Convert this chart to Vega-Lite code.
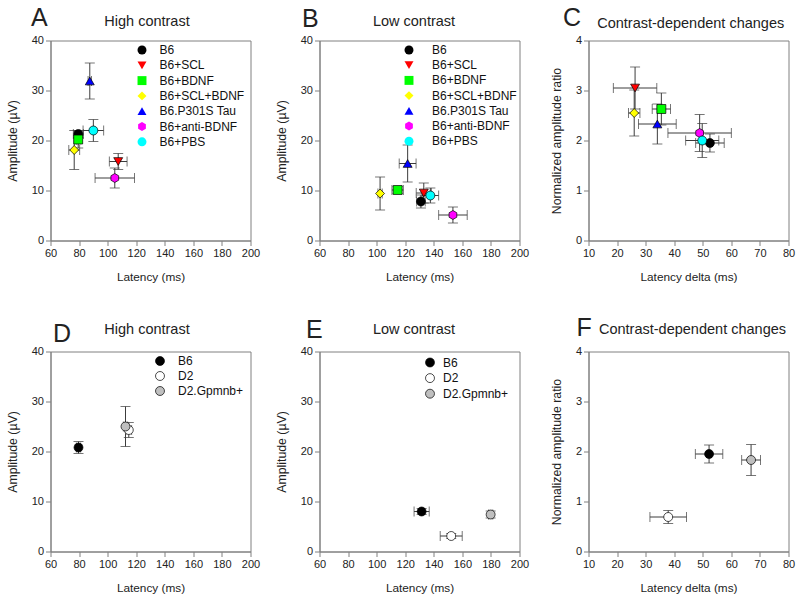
{
  "$schema": "https://vega.github.io/schema/vega-lite/v6.json",
  "background": "white",
  "padding": {"left": 5.5, "top": 4.5, "right": 0, "bottom": 0},
  "autosize": {"type": "pad"},
  "datasets": {
    "hc": [
      {"g": "B6", "x": 79.5, "xe": 3.5, "y": 21.3, "ye": 0.7},
      {"g": "B6+SCL", "x": 107.4, "xe": 6.2, "y": 15.8, "ye": 1.6},
      {"g": "B6+BDNF", "x": 79.4, "xe": 1.2, "y": 20.2, "ye": 1.7},
      {"g": "B6+SCL+BDNF", "x": 76.6, "xe": 3.8, "y": 18.1, "ye": 3.9},
      {"g": "B6.P301S Tau", "x": 87.5, "xe": 1.2, "y": 31.9, "ye": 3.6},
      {"g": "B6+anti-BDNF", "x": 105, "xe": 13.8, "y": 12.5, "ye": 2.0},
      {"g": "B6+PBS", "x": 90, "xe": 7.2, "y": 22, "ye": 2.2}
    ],
    "lc": [
      {"g": "B6", "x": 131, "xe": 3, "y": 7.8, "ye": 1.3},
      {"g": "B6+SCL", "x": 133, "xe": 5.3, "y": 9.5, "ye": 2.0},
      {"g": "B6+BDNF", "x": 114.7, "xe": 4, "y": 10.1, "ye": 0.7},
      {"g": "B6+SCL+BDNF", "x": 102.4, "xe": 1.5, "y": 9.4, "ye": 3.3},
      {"g": "B6.P301S Tau", "x": 121.7, "xe": 5.9, "y": 15.4, "ye": 3.7},
      {"g": "B6+anti-BDNF", "x": 153.4, "xe": 10, "y": 5.1, "ye": 1.6},
      {"g": "B6+PBS", "x": 137.6, "xe": 5.8, "y": 9.0, "ye": 1.5}
    ],
    "cd": [
      {"g": "B6", "x": 52.5, "xe": 5, "y": 1.95, "ye": 0.18},
      {"g": "B6+SCL", "x": 26.3, "xe": 7.6, "y": 3.05, "ye": 0.42},
      {"g": "B6+BDNF", "x": 35.5, "xe": 3.2, "y": 2.63, "ye": 0.32},
      {"g": "B6+SCL+BDNF", "x": 26, "xe": 2, "y": 2.55, "ye": 0.46},
      {"g": "B6.P301S Tau", "x": 34.1, "xe": 6.6, "y": 2.33, "ye": 0.4},
      {"g": "B6+anti-BDNF", "x": 48.9, "xe": 11.1, "y": 2.15, "ye": 0.37},
      {"g": "B6+PBS", "x": 49.8, "xe": 5.8, "y": 2.0, "ye": 0.34}
    ],
    "hc2": [
      {"g": "B6", "x": 79.6, "xe": 1.5, "y": 20.8, "ye": 1.2},
      {"g": "D2", "x": 114.8, "xe": 2, "y": 24.3, "ye": 1.5},
      {"g": "D2.Gpmnb+", "x": 112.5, "xe": 1.5, "y": 25, "ye": 4}
    ],
    "lc2": [
      {"g": "B6", "x": 131.5, "xe": 5.3, "y": 8.0, "ye": 0.6},
      {"g": "D2", "x": 152.2, "xe": 7.7, "y": 3.1, "ye": 0.5},
      {"g": "D2.Gpmnb+", "x": 179.8, "xe": 1.5, "y": 7.4, "ye": 0.7}
    ],
    "cd2": [
      {"g": "B6", "x": 52.2, "xe": 4.8, "y": 1.95, "ye": 0.18},
      {"g": "D2", "x": 37.9, "xe": 6.4, "y": 0.69, "ye": 0.13},
      {"g": "D2.Gpmnb+", "x": 66.9, "xe": 3.3, "y": 1.83, "ye": 0.31}
    ]
  },
  "columns": 3,
  "bounds": "flush",
  "spacing": {"row": 111, "column": 69},
  "resolve": {"scale": {"fill": "independent", "shape": "independent"}, "legend": {"fill": "independent", "shape": "independent"}},
  "concat": [
    {
      "width": 200, "height": 200,
      "data": {"name": "hc"},
      "resolve": {"axis": {"x": "independent", "y": "independent"}},
      "layer": [
        {"mark": {"type": "errorbar", "color": "#3c3c3c", "thickness": 1, "ticks": {"size": 10, "thickness": 1}},
         "encoding": {
           "x": {"field": "x", "type": "quantitative", "scale": {"domain": [60, 200], "nice": false}, "axis": null},
           "xError": {"field": "xe"},
           "y": {"field": "y", "type": "quantitative", "scale": {"domain": [0, 40], "nice": false}, "axis": null}
         }},
        {"mark": {"type": "errorbar", "color": "#3c3c3c", "thickness": 1, "ticks": {"size": 10, "thickness": 1}},
         "encoding": {
           "x": {"field": "x", "type": "quantitative", "axis": {"orient": "top", "title": "High contrast", "labels": false, "ticks": false, "domain": false, "titleFontSize": 14.5, "titleX": 96, "titleY": -15, "titleAlign": "center", "titleBaseline": "alphabetic"}},
           "y": {"field": "y", "type": "quantitative", "axis": {"orient": "right", "title": "A", "labels": false, "ticks": false, "domain": false, "titleFontSize": 25, "titleAngle": 0, "titleX": -220, "titleY": -15, "titleAlign": "left", "titleBaseline": "alphabetic"}},
           "yError": {"field": "ye"}
         }},
        {"mark": {"type": "point", "filled": true, "stroke": "black", "strokeWidth": 0.7, "size": 80, "opacity": 1},
         "encoding": {
           "x": {"field": "x", "type": "quantitative", "axis": {"orient": "bottom", "title": "Latency (ms)", "values": [60, 80, 100, 120, 140, 160, 180, 200]}},
           "y": {"field": "y", "type": "quantitative", "axis": {"orient": "left", "title": "Amplitude (µV)", "values": [0, 10, 20, 30, 40]}},
           "fill": {"field": "g", "type": "nominal",
             "scale": {"domain": ["B6", "B6+SCL", "B6+BDNF", "B6+SCL+BDNF", "B6.P301S Tau", "B6+anti-BDNF", "B6+PBS"], "range": ["#000000", "#ff0000", "#00ff00", "#ffff00", "#0000ff", "#ff00ff", "#00ffff"]},
             "legend": {"title": null, "orient": "none", "legendX": 85.5, "legendY": 3.5, "padding": 0, "labelOffset": 11.5, "rowPadding": 3.3}},
           "shape": {"field": "g", "type": "nominal",
             "scale": {"domain": ["B6", "B6+SCL", "B6+BDNF", "B6+SCL+BDNF", "B6.P301S Tau", "B6+anti-BDNF", "B6+PBS"], "range": ["circle", "triangle-down", "square", "diamond", "triangle-up", "M0,-1L0.866,-0.5L0.866,0.5L0,1L-0.866,0.5L-0.866,-0.5Z", "circle"]},
             "legend": {"title": null, "orient": "none", "legendX": 85.5, "legendY": 3.5, "padding": 0, "labelOffset": 11.5, "rowPadding": 3.3}}
         }}
      ]
    },
    {
      "width": 200, "height": 200,
      "data": {"name": "lc"},
      "resolve": {"axis": {"x": "independent", "y": "independent"}},
      "layer": [
        {"mark": {"type": "errorbar", "color": "#3c3c3c", "thickness": 1, "ticks": {"size": 10, "thickness": 1}},
         "encoding": {
           "x": {"field": "x", "type": "quantitative", "scale": {"domain": [60, 200], "nice": false}, "axis": null},
           "xError": {"field": "xe"},
           "y": {"field": "y", "type": "quantitative", "scale": {"domain": [0, 40], "nice": false}, "axis": null}
         }},
        {"mark": {"type": "errorbar", "color": "#3c3c3c", "thickness": 1, "ticks": {"size": 10, "thickness": 1}},
         "encoding": {
           "x": {"field": "x", "type": "quantitative", "axis": {"orient": "top", "title": "Low contrast", "labels": false, "ticks": false, "domain": false, "titleFontSize": 14.5, "titleX": 94, "titleY": -15, "titleAlign": "center", "titleBaseline": "alphabetic"}},
           "y": {"field": "y", "type": "quantitative", "axis": {"orient": "right", "title": "B", "labels": false, "ticks": false, "domain": false, "titleFontSize": 25, "titleAngle": 0, "titleX": -218, "titleY": -14, "titleAlign": "left", "titleBaseline": "alphabetic"}},
           "yError": {"field": "ye"}
         }},
        {"mark": {"type": "point", "filled": true, "stroke": "black", "strokeWidth": 0.7, "size": 80, "opacity": 1},
         "encoding": {
           "x": {"field": "x", "type": "quantitative", "axis": {"orient": "bottom", "title": "Latency (ms)", "values": [60, 80, 100, 120, 140, 160, 180, 200]}},
           "y": {"field": "y", "type": "quantitative", "axis": {"orient": "left", "title": "Amplitude (µV)", "values": [0, 10, 20, 30, 40]}},
           "fill": {"field": "g", "type": "nominal",
             "scale": {"domain": ["B6", "B6+SCL", "B6+BDNF", "B6+SCL+BDNF", "B6.P301S Tau", "B6+anti-BDNF", "B6+PBS"], "range": ["#000000", "#ff0000", "#00ff00", "#ffff00", "#0000ff", "#ff00ff", "#00ffff"]},
             "legend": {"title": null, "orient": "none", "legendX": 83.5, "legendY": 3.5, "padding": 0, "labelOffset": 17, "rowPadding": 3.2}},
           "shape": {"field": "g", "type": "nominal",
             "scale": {"domain": ["B6", "B6+SCL", "B6+BDNF", "B6+SCL+BDNF", "B6.P301S Tau", "B6+anti-BDNF", "B6+PBS"], "range": ["circle", "triangle-down", "square", "diamond", "triangle-up", "M0,-1L0.866,-0.5L0.866,0.5L0,1L-0.866,0.5L-0.866,-0.5Z", "circle"]},
             "legend": {"title": null, "orient": "none", "legendX": 83.5, "legendY": 3.5, "padding": 0, "labelOffset": 17, "rowPadding": 3.2}}
         }}
      ]
    },
    {
      "width": 200, "height": 200,
      "data": {"name": "cd"},
      "resolve": {"axis": {"x": "independent", "y": "independent"}},
      "layer": [
        {"mark": {"type": "errorbar", "color": "#3c3c3c", "thickness": 1, "ticks": {"size": 10, "thickness": 1}},
         "encoding": {
           "x": {"field": "x", "type": "quantitative", "scale": {"domain": [10, 80], "nice": false}, "axis": null},
           "xError": {"field": "xe"},
           "y": {"field": "y", "type": "quantitative", "scale": {"domain": [0, 4], "nice": false}, "axis": null}
         }},
        {"mark": {"type": "errorbar", "color": "#3c3c3c", "thickness": 1, "ticks": {"size": 10, "thickness": 1}},
         "encoding": {
           "x": {"field": "x", "type": "quantitative", "axis": {"orient": "top", "title": "Contrast-dependent changes", "labels": false, "ticks": false, "domain": false, "titleFontSize": 14.5, "titleX": 101.7, "titleY": -13.3, "titleAlign": "center", "titleBaseline": "alphabetic"}},
           "y": {"field": "y", "type": "quantitative", "axis": {"orient": "right", "title": "C", "labels": false, "ticks": false, "domain": false, "titleFontSize": 25, "titleAngle": 0, "titleX": -226, "titleY": -15, "titleAlign": "left", "titleBaseline": "alphabetic"}},
           "yError": {"field": "ye"}
         }},
        {"mark": {"type": "point", "filled": true, "stroke": "black", "strokeWidth": 0.7, "size": 80, "opacity": 1},
         "encoding": {
           "x": {"field": "x", "type": "quantitative", "axis": {"orient": "bottom", "title": "Latency delta (ms)", "values": [10, 20, 30, 40, 50, 60, 70, 80]}},
           "y": {"field": "y", "type": "quantitative", "axis": {"orient": "left", "title": "Normalized amplitude ratio", "values": [0, 1, 2, 3, 4]}},
           "fill": {"field": "g", "type": "nominal",
             "scale": {"domain": ["B6", "B6+SCL", "B6+BDNF", "B6+SCL+BDNF", "B6.P301S Tau", "B6+anti-BDNF", "B6+PBS"], "range": ["#000000", "#ff0000", "#00ff00", "#ffff00", "#0000ff", "#ff00ff", "#00ffff"]},
             "legend": null},
           "shape": {"field": "g", "type": "nominal",
             "scale": {"domain": ["B6", "B6+SCL", "B6+BDNF", "B6+SCL+BDNF", "B6.P301S Tau", "B6+anti-BDNF", "B6+PBS"], "range": ["circle", "triangle-down", "square", "diamond", "triangle-up", "M0,-1L0.866,-0.5L0.866,0.5L0,1L-0.866,0.5L-0.866,-0.5Z", "circle"]},
             "legend": null}
         }}
      ]
    },
    {
      "width": 200, "height": 200,
      "data": {"name": "hc2"},
      "resolve": {"axis": {"x": "independent", "y": "independent"}},
      "layer": [
        {"mark": {"type": "errorbar", "color": "#3c3c3c", "thickness": 1, "ticks": {"size": 10, "thickness": 1}},
         "encoding": {
           "x": {"field": "x", "type": "quantitative", "scale": {"domain": [60, 200], "nice": false}, "axis": null},
           "xError": {"field": "xe"},
           "y": {"field": "y", "type": "quantitative", "scale": {"domain": [0, 40], "nice": false}, "axis": null}
         }},
        {"mark": {"type": "errorbar", "color": "#3c3c3c", "thickness": 1, "ticks": {"size": 10, "thickness": 1}},
         "encoding": {
           "x": {"field": "x", "type": "quantitative", "axis": {"orient": "top", "title": "High contrast", "labels": false, "ticks": false, "domain": false, "titleFontSize": 14.5, "titleX": 96, "titleY": -18.3, "titleAlign": "center", "titleBaseline": "alphabetic"}},
           "y": {"field": "y", "type": "quantitative", "axis": {"orient": "right", "title": "D", "labels": false, "ticks": false, "domain": false, "titleFontSize": 25, "titleAngle": 0, "titleX": -198, "titleY": -10.3, "titleAlign": "left", "titleBaseline": "alphabetic"}},
           "yError": {"field": "ye"}
         }},
        {"mark": {"type": "point", "filled": true, "stroke": "black", "strokeWidth": 0.7, "size": 80, "opacity": 1, "shape": "circle"},
         "encoding": {
           "x": {"field": "x", "type": "quantitative", "axis": {"orient": "bottom", "title": "Latency (ms)", "values": [60, 80, 100, 120, 140, 160, 180, 200]}},
           "y": {"field": "y", "type": "quantitative", "axis": {"orient": "left", "title": "Amplitude (µV)", "values": [0, 10, 20, 30, 40]}},
           "fill": {"field": "g", "type": "nominal",
             "scale": {"domain": ["B6", "D2", "D2.Gpmnb+"], "range": ["#000000", "#ffffff", "#bfbfbf"]},
             "legend": {"title": null, "orient": "none", "legendX": 103.5, "legendY": 3.5, "padding": 0, "labelOffset": 12, "rowPadding": 3}}
         }}
      ]
    },
    {
      "width": 200, "height": 200,
      "data": {"name": "lc2"},
      "resolve": {"axis": {"x": "independent", "y": "independent"}},
      "layer": [
        {"mark": {"type": "errorbar", "color": "#3c3c3c", "thickness": 1, "ticks": {"size": 10, "thickness": 1}},
         "encoding": {
           "x": {"field": "x", "type": "quantitative", "scale": {"domain": [60, 200], "nice": false}, "axis": null},
           "xError": {"field": "xe"},
           "y": {"field": "y", "type": "quantitative", "scale": {"domain": [0, 40], "nice": false}, "axis": null}
         }},
        {"mark": {"type": "errorbar", "color": "#3c3c3c", "thickness": 1, "ticks": {"size": 10, "thickness": 1}},
         "encoding": {
           "x": {"field": "x", "type": "quantitative", "axis": {"orient": "top", "title": "Low contrast", "labels": false, "ticks": false, "domain": false, "titleFontSize": 14.5, "titleX": 94, "titleY": -17.7, "titleAlign": "center", "titleBaseline": "alphabetic"}},
           "y": {"field": "y", "type": "quantitative", "axis": {"orient": "right", "title": "E", "labels": false, "ticks": false, "domain": false, "titleFontSize": 25, "titleAngle": 0, "titleX": -214, "titleY": -14.3, "titleAlign": "left", "titleBaseline": "alphabetic"}},
           "yError": {"field": "ye"}
         }},
        {"mark": {"type": "point", "filled": true, "stroke": "black", "strokeWidth": 0.7, "size": 80, "opacity": 1, "shape": "circle"},
         "encoding": {
           "x": {"field": "x", "type": "quantitative", "axis": {"orient": "bottom", "title": "Latency (ms)", "values": [60, 80, 100, 120, 140, 160, 180, 200]}},
           "y": {"field": "y", "type": "quantitative", "axis": {"orient": "left", "title": "Amplitude (µV)", "values": [0, 10, 20, 30, 40]}},
           "fill": {"field": "g", "type": "nominal",
             "scale": {"domain": ["B6", "D2", "D2.Gpmnb+"], "range": ["#000000", "#ffffff", "#bfbfbf"]},
             "legend": {"title": null, "orient": "none", "legendX": 104.5, "legendY": 5, "padding": 0, "labelOffset": 7, "rowPadding": 3.6}}
         }}
      ]
    },
    {
      "width": 200, "height": 200,
      "data": {"name": "cd2"},
      "resolve": {"axis": {"x": "independent", "y": "independent"}},
      "layer": [
        {"mark": {"type": "errorbar", "color": "#3c3c3c", "thickness": 1, "ticks": {"size": 10, "thickness": 1}},
         "encoding": {
           "x": {"field": "x", "type": "quantitative", "scale": {"domain": [10, 80], "nice": false}, "axis": null},
           "xError": {"field": "xe"},
           "y": {"field": "y", "type": "quantitative", "scale": {"domain": [0, 4], "nice": false}, "axis": null}
         }},
        {"mark": {"type": "errorbar", "color": "#3c3c3c", "thickness": 1, "ticks": {"size": 10, "thickness": 1}},
         "encoding": {
           "x": {"field": "x", "type": "quantitative", "axis": {"orient": "top", "title": "Contrast-dependent changes", "labels": false, "ticks": false, "domain": false, "titleFontSize": 14.5, "titleX": 103.5, "titleY": -17.7, "titleAlign": "center", "titleBaseline": "alphabetic"}},
           "y": {"field": "y", "type": "quantitative", "axis": {"orient": "right", "title": "F", "labels": false, "ticks": false, "domain": false, "titleFontSize": 25, "titleAngle": 0, "titleX": -212.5, "titleY": -16, "titleAlign": "left", "titleBaseline": "alphabetic"}},
           "yError": {"field": "ye"}
         }},
        {"mark": {"type": "point", "filled": true, "stroke": "black", "strokeWidth": 0.7, "size": 80, "opacity": 1, "shape": "circle"},
         "encoding": {
           "x": {"field": "x", "type": "quantitative", "axis": {"orient": "bottom", "title": "Latency delta (ms)", "values": [10, 20, 30, 40, 50, 60, 70, 80]}},
           "y": {"field": "y", "type": "quantitative", "axis": {"orient": "left", "title": "Normalized amplitude ratio", "values": [0, 1, 2, 3, 4]}},
           "fill": {"field": "g", "type": "nominal",
             "scale": {"domain": ["B6", "D2", "D2.Gpmnb+"], "range": ["#000000", "#ffffff", "#bfbfbf"]},
             "legend": null}
         }}
      ]
    }
  ],
  "config": {
    "font": "Liberation Sans",
    "view": {"stroke": "#808080", "strokeWidth": 1},
    "axis": {"grid": false, "labelFlush": false, "domainColor": "#808080", "tickColor": "#808080", "tickSize": 5, "labelFontSize": 11, "labelColor": "#222222", "labelFont": "Liberation Sans", "titleFont": "Liberation Sans", "titleFontWeight": "normal", "titleColor": "#222222", "labelPadding": 2},
    "axisX": {"titlePadding": 12.5, "titleFontSize": 11.8},
    "axisY": {"titlePadding": 12, "titleFontSize": 12.3},
    "legend": {"labelFontSize": 12, "labelFont": "Liberation Sans", "labelFontWeight": "normal", "labelColor": "#111111", "symbolSize": 80, "symbolStrokeColor": "black", "symbolStrokeWidth": 0.7}
  }
}
